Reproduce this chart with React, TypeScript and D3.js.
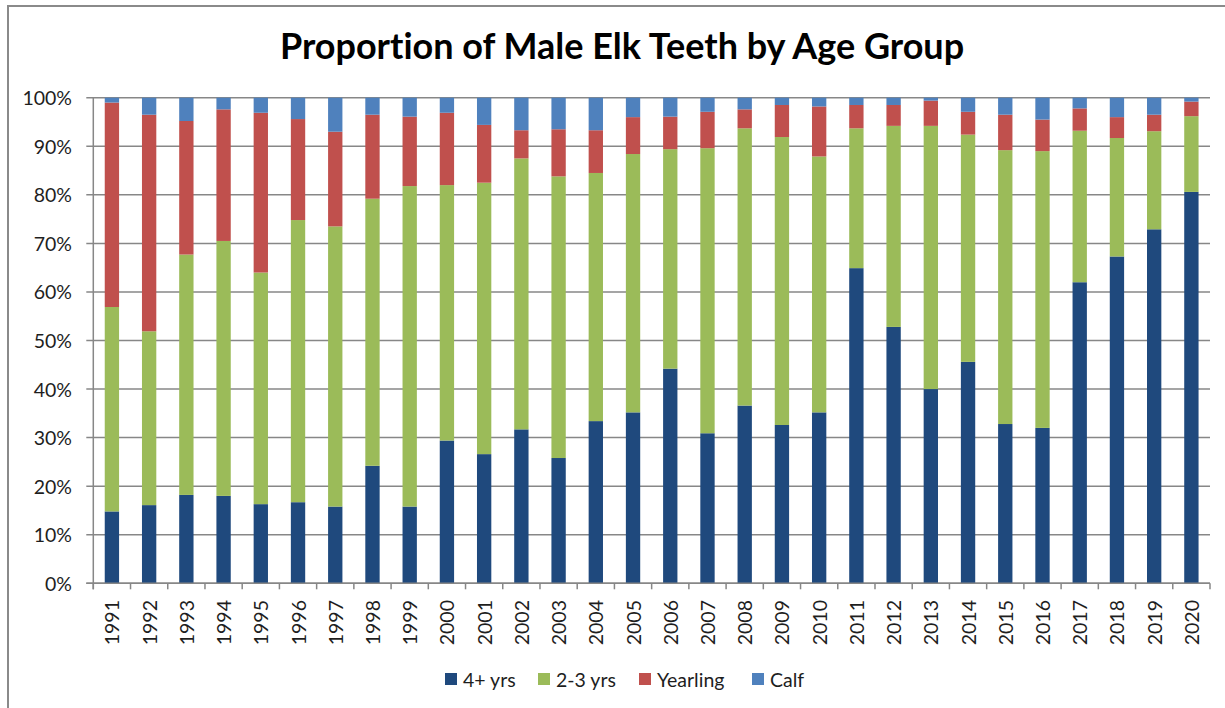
import React, { useRef, useEffect } from 'react';
import * as d3 from 'd3';

// Chart data (percent of teeth per age group)
const years = [
  '1991', '1992', '1993', '1994', '1995', '1996', '1997', '1998', '1999', '2000',
  '2001', '2002', '2003', '2004', '2005', '2006', '2007', '2008', '2009', '2010',
  '2011', '2012', '2013', '2014', '2015', '2016', '2017', '2018', '2019', '2020'
];
const adult = [
  14.8, 16.1, 18.2, 18.0, 16.3, 16.7, 15.8, 24.2, 15.8, 29.4,
  26.6, 31.7, 25.8, 33.4, 35.2, 44.2, 30.9, 36.6, 32.6, 35.2,
  64.9, 52.8, 40.0, 45.6, 32.8, 32.0, 62.0, 67.3, 72.9, 80.6
];
const twoThree = [
  42.1, 35.8, 49.5, 52.5, 47.7, 58.1, 57.7, 55.0, 66.0, 52.6,
  55.9, 55.8, 58.0, 51.1, 53.2, 45.2, 58.7, 57.1, 59.3, 52.7,
  28.8, 41.4, 54.2, 46.8, 56.4, 57.0, 31.2, 24.4, 20.2, 15.6
];
const yearling = [
  42.1, 44.6, 27.5, 27.1, 32.9, 20.8, 19.5, 17.3, 14.3, 14.9,
  11.9, 5.8, 9.7, 8.8, 7.6, 6.7, 7.5, 3.9, 6.6, 10.3,
  4.8, 4.3, 5.2, 4.7, 7.3, 6.5, 4.6, 4.3, 3.4, 3.0
];
const calf = [
  1.0, 3.5, 4.8, 2.4, 3.1, 4.4, 7.0, 3.5, 3.9, 3.1,
  5.6, 6.7, 6.5, 6.7, 4.0, 3.9, 2.9, 2.4, 1.5, 1.8,
  1.5, 1.5, 0.6, 2.9, 3.5, 4.5, 2.2, 4.0, 3.5, 0.8
];
const seriesNames = ['4+ yrs', '2-3 yrs', 'Yearling', 'Calf'];
const seriesColors = ['#1F497D', '#9BBB59', '#C0504D', '#4F81BD'];
const yTicks = [0, 0.1, 0.2, 0.3, 0.4, 0.5, 0.6, 0.7, 0.8, 0.9, 1];

const W = 1225;
const H = 708;
const FONT = 'Lato, Carlito, Calibri, sans-serif';

const App: React.FC = () => {
  const svgRef = useRef<SVGSVGElement>(null);

  useEffect(() => {
    if (!svgRef.current) return;
    const svg = d3.select(svgRef.current);
    svg.selectAll('*').remove();

    const plotLeft = 93.3;
    const plotRight = 1210;
    const plotTop = 97.7;
    const plotBottom = 583.3;
    const gridColor = '#878787';

    // chart frame (cropped on the right / bottom)
    svg.append('rect')
      .attr('x', 8)
      .attr('y', 6)
      .attr('width', W + 20)
      .attr('height', H + 20)
      .attr('fill', '#fff')
      .attr('stroke', '#8a8a8a')
      .attr('stroke-width', 2);

    // title
    svg.append('text')
      .attr('x', 622)
      .attr('y', 59)
      .attr('text-anchor', 'middle')
      .attr('font-family', FONT)
      .attr('font-weight', 'bold')
      .attr('font-size', 36)
      .attr('fill', '#000')
      .style('font-variant-ligatures', 'none')
      .text('Proportion of Male Elk Teeth by Age Group');

    const table = years.map((year, i) => ({
      year,
      '4+ yrs': adult[i],
      '2-3 yrs': twoThree[i],
      'Yearling': yearling[i],
      'Calf': calf[i]
    }));

    const stacked = d3.stack<any>()
      .keys(seriesNames)
      .offset(d3.stackOffsetExpand)(table);

    const x = d3.scaleBand()
      .domain(years)
      .range([plotLeft, plotRight])
      .paddingInner(0.615)
      .paddingOuter(0.3075);

    const y = d3.scaleLinear()
      .domain([0, 1])
      .range([plotBottom, plotTop]);

    // gridlines
    const grid = svg.append('g').attr('class', 'grid');
    yTicks.forEach(t => {
      grid.append('line')
        .attr('x1', plotLeft - 7)
        .attr('x2', plotRight)
        .attr('y1', y(t))
        .attr('y2', y(t))
        .attr('stroke', gridColor)
        .attr('stroke-width', 1.5);
    });

    // y labels
    const fmt = d3.format('.0%');
    yTicks.forEach(t => {
      svg.append('text')
        .attr('x', 72)
        .attr('y', y(t))
        .attr('text-anchor', 'end')
        .attr('dominant-baseline', 'central')
        .attr('font-family', FONT)
        .attr('font-size', 19.5)
        .attr('fill', '#1e1e1e')
        .text(fmt(t));
    });

    // bars
    const bars = svg.append('g').attr('class', 'bars');
    stacked.forEach((layer, li) => {
      bars.append('g')
        .attr('fill', seriesColors[li])
        .selectAll('rect')
        .data(layer)
        .join('rect')
        .attr('x', (d: any) => x(d.data.year) as number)
        .attr('width', x.bandwidth())
        .attr('y', (d: any) => y(d[1]))
        .attr('height', (d: any) => y(d[0]) - y(d[1]));
    });

    // axes lines
    svg.append('line')
      .attr('x1', plotLeft)
      .attr('x2', plotLeft)
      .attr('y1', plotTop)
      .attr('y2', plotBottom + 6)
      .attr('stroke', gridColor)
      .attr('stroke-width', 1.5);
    svg.append('line')
      .attr('x1', plotLeft - 7)
      .attr('x2', plotRight)
      .attr('y1', plotBottom)
      .attr('y2', plotBottom)
      .attr('stroke', gridColor)
      .attr('stroke-width', 1.5);

    // x tick marks at category boundaries
    const step = x.step();
    d3.range(years.length + 1).forEach(i => {
      const tx = plotLeft + i * step;
      svg.append('line')
        .attr('x1', tx)
        .attr('x2', tx)
        .attr('y1', plotBottom)
        .attr('y2', plotBottom + 6)
        .attr('stroke', gridColor)
        .attr('stroke-width', 1.5);
    });

    // x labels, rotated
    years.forEach(yr => {
      const cx = (x(yr) as number) + x.bandwidth() / 2;
      svg.append('text')
        .attr('transform', `translate(${cx}, 600) rotate(-90)`)
        .attr('text-anchor', 'end')
        .attr('dominant-baseline', 'central')
        .attr('font-family', FONT)
        .attr('font-size', 19.5)
        .attr('fill', '#1e1e1e')
        .text(yr);
    });

    // legend
    const legendX = [445, 538, 639, 752];
    const legend = svg.append('g').attr('class', 'legend');
    seriesNames.forEach((name, i) => {
      legend.append('rect')
        .attr('x', legendX[i])
        .attr('y', 673)
        .attr('width', 12)
        .attr('height', 12)
        .attr('fill', seriesColors[i]);
      legend.append('text')
        .attr('x', legendX[i] + 18)
        .attr('y', 679)
        .attr('dominant-baseline', 'central')
        .attr('font-family', FONT)
        .attr('font-size', 19.5)
        .attr('fill', '#1e1e1e')
        .text(name);
    });
  }, []);

  return (
    <svg
      ref={svgRef}
      width={W}
      height={H}
      style={{ position: 'absolute', left: 0, top: 0, background: '#fff' }}
    />
  );
};

export default App;
